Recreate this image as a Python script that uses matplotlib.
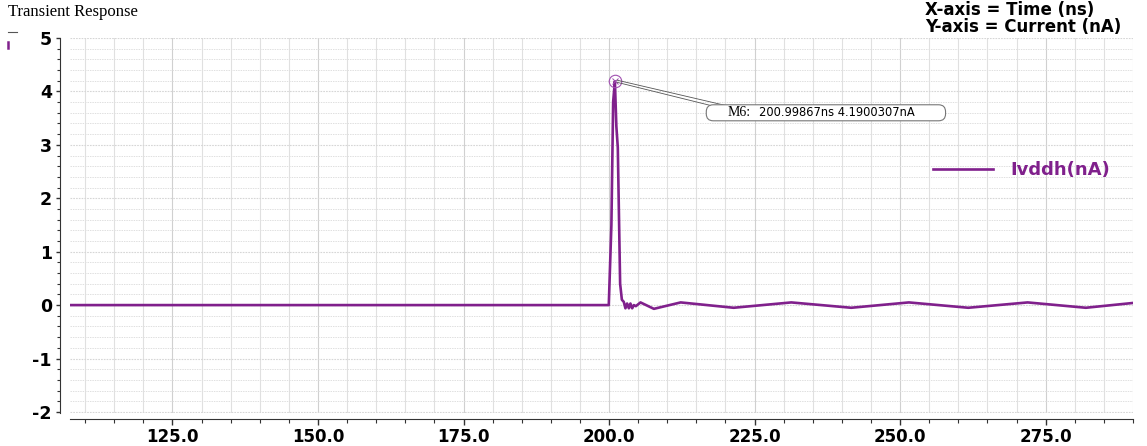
import matplotlib
matplotlib.use('Agg')
import matplotlib.pyplot as plt
from matplotlib.patches import FancyBboxPatch
from matplotlib.lines import Line2D
from matplotlib.ticker import MultipleLocator, FixedLocator

# waveform (time in ns, current in nA)
time_ns = [107.4, 150.0, 199.95, 200.4, 200.7, 201.0, 201.25, 201.5, 201.9, 202.2,
           202.53, 202.81, 203.1, 203.4, 203.67, 203.97, 204.26, 204.6, 205.4,
           207.7, 212.3, 221.4, 231.3, 241.6, 251.5, 261.7, 271.9, 281.9, 290.0]
current_na = [0.0, 0.0, 0.0, 1.5, 3.8, 4.19, 3.35, 2.95, 0.40, 0.10,
              0.06, -0.06, 0.03, -0.06, 0.03, -0.06, 0.0, -0.02, 0.05,
              -0.07, 0.05, -0.05, 0.05, -0.05, 0.05, -0.05, 0.05, -0.05, 0.04]

marker_t = 200.99867
marker_v = 4.1900307
marker_name = 'M6:'
marker_text = '200.99867ns 4.1900307nA'

x_ticks = [125.0, 150.0, 175.0, 200.0, 225.0, 250.0, 275.0]
y_ticks = [-2, -1, 0, 1, 2, 3, 4, 5]

purple = '#80208c'

fig = plt.figure(figsize=(11.47, 4.46), dpi=100)
ax = fig.add_axes([70 / 1147, 1 - 413 / 446, 1063 / 1147, 375 / 446])

ax.plot(time_ns, current_na, color=purple, lw=1.9, label='Ivddh(nA)', solid_joinstyle='round')

# marker at the peak
ax.plot([marker_t], [marker_v], marker='o', ms=9, mfc='none', mec='#a050b0', mew=0.8)
ax.plot([marker_t], [marker_v], marker='x', ms=5, mec='#a050b0', mew=0.7)

# callout box
bx0, bx1, by0, by1 = 216.7, 257.8, 3.45, 3.75
box = FancyBboxPatch((bx0, by0), bx1 - bx0, by1 - by0,
                     boxstyle='round,pad=0,rounding_size=1.2',
                     mutation_aspect=5.8 / 53.4,
                     fc='white', ec='#777777', lw=0.8, zorder=5)
ax.add_patch(box)
ax.plot([marker_t + 0.4, bx0 + 1.0], [marker_v - 0.02, by1 - 0.02], color='#555555', lw=0.6, zorder=4)
ax.plot([marker_t + 0.4, bx0 + 3.2], [marker_v + 0.02, by1 - 0.01], color='#555555', lw=0.6, zorder=4)
ax.text(bx0 + 3.6, (by0 + by1) / 2, marker_name, family='Liberation Serif', fontsize=10,
        va='center', ha='left', zorder=6)
ax.text(bx0 + 9.0, (by0 + by1) / 2, marker_text, family='DejaVu Sans', fontsize=8.3,
        va='center', ha='left', zorder=6)

ax.set_xlim(107.4, 290.0)
ax.set_ylim(-2.02, 5.0)

ax.xaxis.set_major_locator(FixedLocator(x_ticks))
ax.xaxis.set_minor_locator(MultipleLocator(5))
ax.yaxis.set_major_locator(FixedLocator(y_ticks))
ax.yaxis.set_minor_locator(MultipleLocator(0.2))

# vertical grid solid and light, horizontal grid dotted
ax.xaxis.grid(True, which='major', color='#d0d0d0', lw=0.8, ls='-')
ax.xaxis.grid(True, which='minor', color='#e0e0e0', lw=0.8, ls='-')
ax.yaxis.grid(True, which='major', color='#d6d6d6', lw=0.8, ls=(0, (1.5, 1)))
ax.yaxis.grid(True, which='minor', color='#e0e0e0', lw=0.7, ls=(0, (1.5, 1)))
ax.set_axisbelow(True)

ax.spines['top'].set_visible(False)
ax.spines['right'].set_visible(False)
ax.spines['left'].set_position(('outward', 7))
ax.spines['bottom'].set_position(('outward', 4.5))
ax.spines['left'].set_color('#333333')
ax.spines['bottom'].set_color('#333333')
ax.tick_params(axis='y', which='major', length=3, width=1, pad=3, colors='#333333', labelcolor='black')
ax.tick_params(axis='y', which='minor', length=2.5, width=0.8, colors='#333333')
ax.tick_params(axis='x', which='major', length=4, width=1, pad=2.5, colors='#333333', labelcolor='black')
ax.tick_params(axis='x', which='minor', length=3, width=0.8, colors='#333333')

ax.set_xticklabels([f'{t:.1f}' for t in x_ticks])
ax.set_yticklabels([str(v) for v in y_ticks])
for lab in ax.get_xticklabels():
    lab.set_fontweight('bold')
    lab.set_fontsize(12)
for lab in ax.get_yticklabels():
    lab.set_fontweight('bold')
    lab.set_fontsize(12.5)

leg = ax.legend(loc='center left', bbox_to_anchor=(0.812, 0.648), frameon=False,
                borderpad=0, borderaxespad=0, handlelength=3.3, handletextpad=1.0,
                prop={'weight': 'bold', 'size': 13})
for t in leg.get_texts():
    t.set_color(purple)

fig.text(8 / 1147, 1 - 12 / 446, 'Transient Response', family='Liberation Serif',
         fontsize=12, va='center', ha='left')
fig.text(925 / 1147, 1 - 10 / 446, 'X-axis = Time (ns)', fontsize=12,
         fontweight='bold', va='center', ha='left')
fig.text(925 / 1147, 1 - 27 / 446, 'Y-axis = Current (nA)', fontsize=12,
         fontweight='bold', va='center', ha='left')

# small glyphs at the top left corner
fig.add_artist(Line2D([8 / 1147, 17 / 1147], [1 - 32 / 446] * 2, color='#555555', lw=0.8))
fig.add_artist(Line2D([8 / 1147, 8 / 1147], [1 - 42 / 446, 1 - 48 / 446], color=purple, lw=1.8))

fig.savefig('out.png', dpi=100)
